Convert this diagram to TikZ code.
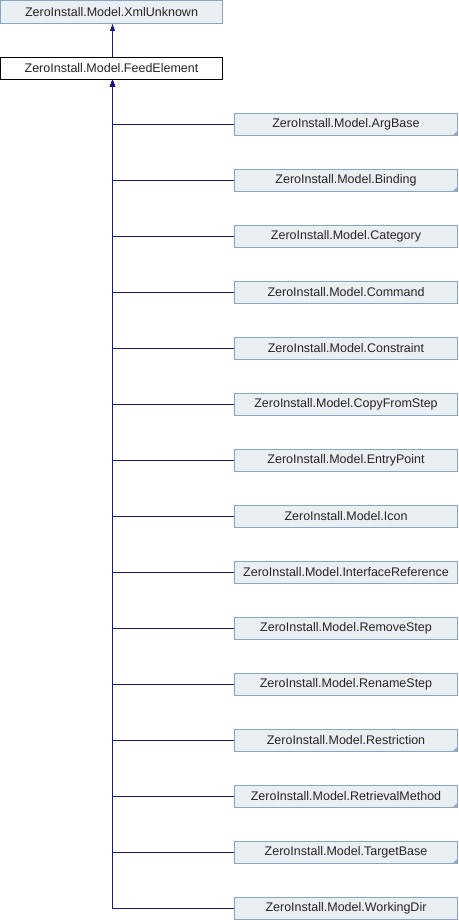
\documentclass[tikz,border=0pt]{standalone}
\usepackage{fontspec}
\setmainfont{Liberation Sans}
\usetikzlibrary{arrows.meta}
\definecolor{boxfill}{RGB}{233,239,243}
\definecolor{boxline}{RGB}{134,166,196}
\definecolor{edgeblue}{RGB}{25,25,140}
\definecolor{corner}{RGB}{150,170,190}
\tikzset{
  cls/.style={draw=boxline, fill=boxfill, line width=1pt, inner sep=0pt,
    font=\fontsize{12.5}{14}\selectfont, text=black!85},
  base/.style={cls, minimum width=222pt, minimum height=23pt},
  child/.style={cls, minimum width=223pt, minimum height=22pt},
  focus/.style={cls, minimum width=222pt, minimum height=22pt, draw=black, fill=white},
  inh/.style={draw=edgeblue, line width=1pt, -{Triangle[length=7pt,width=5pt]}}
}
\begin{document}
\begin{tikzpicture}[x=1pt,y=-1pt]
\useasboundingbox (0,0) rectangle (458,920);
\coordinate (trunk) at (112.5,0);
\node[base] (xml) at (111.5,12) {ZeroInstall.Model.XmlUnknown};
\node[focus] (fe) at (111.5,68.5) {ZeroInstall.Model.FeedElement};
\draw[inh] (fe.north -| trunk) -- (xml.south -| trunk);
\foreach \n/\t/\abs [count=\i from 0] in {
  argbase/ArgBase/1, binding/Binding/1, category/Category/0,
  command/Command/0, constraint/Constraint/0, copyfrom/CopyFromStep/0,
  entry/EntryPoint/0, icon/Icon/0, ifref/InterfaceReference/0,
  remove/RemoveStep/0, rename/RenameStep/0, restriction/Restriction/1,
  retrieval/RetrievalMethod/1, target/TargetBase/1, workdir/WorkingDir/0}{
  \node[child] (\n) at (346,{124.5+56*\i}) {ZeroInstall.Model.\t};
  \draw[inh] (\n.west) -| (fe.south -| trunk);
  \ifnum\abs=1
    \fill[corner] (\n.south east) ++(-0.5,-0.5) -- ++(-5,0) -- ++(5,-5) -- cycle;
  \fi
}
\end{tikzpicture}
\end{document}
